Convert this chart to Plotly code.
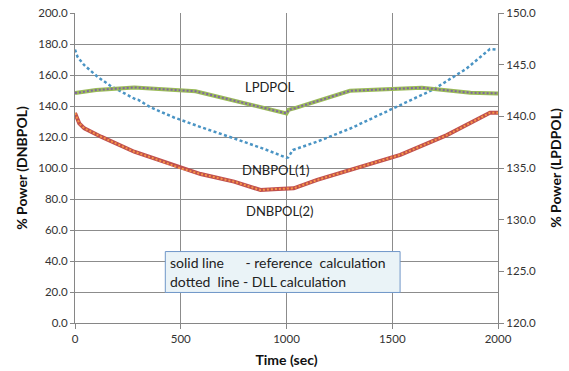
import plotly.graph_objects as go

# ---- data ---------------------------------------------------------------
# DNBPOL(1): DLL calculation, left axis
t_dnb1 = [0, 12, 44, 107, 170, 233, 288, 300, 358, 468, 514, 594, 750, 900,
          1000, 1008, 1030, 1145, 1302, 1443, 1538, 1695, 1850, 1962, 2000]
dnb1 = [176.4, 171.7, 166.3, 158.8, 152.8, 148.1, 144.2, 143.9, 139.1, 132.6,
        130.2, 126.4, 119.2, 112.0, 106.6, 106.8, 111.6, 117.0, 125.5, 134.3,
        140.6, 150.7, 164.0, 176.8, 176.3]

# DNBPOL(2): reference and DLL calculation, left axis
t_dnb2 = [0, 7, 20, 44, 123, 280, 358, 500, 594, 752, 877, 960, 1000, 1034,
          1145, 1302, 1443, 1538, 1758, 1962, 2000]
dnb2_ref = [135.5, 133.5, 128.8, 125.6, 120.2, 110.5, 106.9, 99.8, 96.1, 91.2,
            85.8, 86.5, 86.9, 86.9, 92.3, 98.7, 104.5, 108.5, 121.2, 135.6, 135.6]
dnb2_dll = list(dnb2_ref)

# LPDPOL: reference and DLL calculation, right axis
t_lpd = [0, 100, 280, 420, 570, 1000, 1010, 1040, 1300, 1640, 1870, 2000]
lpd_ref = [142.25, 142.55, 142.8, 142.65, 142.43, 140.28, 140.63, 140.79,
           142.47, 142.77, 142.28, 142.22]
lpd_dll = list(lpd_ref)

# axis ticks
x_ticks = [0, 500, 1000, 1500, 2000]
y_left_ticks = [0, 20, 40, 60, 80, 100, 120, 140, 160, 180, 200]
y_right_ticks = [120, 125, 130, 135, 140, 145, 150]

FONT = "Lato"
GRID = "#8c8c8c"
AXIS = "#868686"
TXT = "#333333"

fig = go.Figure()

# solid reference curves
fig.add_trace(go.Scatter(x=t_lpd, y=lpd_ref, yaxis="y2", mode="lines",
                         line=dict(color="#9BBB59", width=4)))
fig.add_trace(go.Scatter(x=t_dnb2, y=dnb2_ref, mode="lines",
                         line=dict(color="#C0504D", width=4)))
# dotted DLL curves
fig.add_trace(go.Scatter(x=t_lpd, y=lpd_dll, yaxis="y2", mode="lines",
                         line=dict(color="#8064A2", width=2, dash="2px,2px")))
fig.add_trace(go.Scatter(x=t_dnb2, y=dnb2_dll, mode="lines",
                         line=dict(color="#F79646", width=2, dash="2px,2px")))
fig.add_trace(go.Scatter(x=t_dnb1, y=dnb1, mode="lines",
                         line=dict(color="#4A94C4", width=2.5, dash="3px,2.5px")))

tickfont = dict(family=FONT, size=11.5, color=TXT)
titlefont = dict(family=FONT, size=14, color="#111111", weight="bold")

fig.update_layout(
    width=569, height=371,
    margin=dict(l=74.5, r=71, t=12.7, b=47.7, autoexpand=False),
    paper_bgcolor="white", plot_bgcolor="white",
    showlegend=False,
    xaxis=dict(range=[0, 2000], tickvals=x_ticks, ticktext=[str(v) for v in x_ticks],
               showgrid=True, gridcolor=GRID, gridwidth=1,
               showline=True, linecolor=AXIS, linewidth=1,
               ticks="outside", ticklen=5, tickcolor=AXIS,
               tickfont=tickfont, zeroline=False, automargin=False,
               title=dict(text="Time (sec)", font=titlefont, standoff=11)),
    yaxis=dict(range=[0, 200], tickvals=y_left_ticks,
               ticktext=[f"{v:.1f}" for v in y_left_ticks],
               showgrid=True, gridcolor=GRID, gridwidth=1,
               showline=True, linecolor=AXIS, linewidth=1,
               ticks="outside", ticklen=4, tickcolor=AXIS,
               tickfont=tickfont, zeroline=False, automargin=False,
               title=dict(text="% Power (DNBPOL)", font=titlefont, standoff=7)),
    yaxis2=dict(range=[120, 150], tickvals=y_right_ticks,
                ticktext=[f"{v:.1f}" for v in y_right_ticks],
                overlaying="y", side="right", showgrid=False,
                showline=True, linecolor=AXIS, linewidth=1,
                ticks="outside", ticklen=5, tickcolor=AXIS,
                tickfont=tickfont, zeroline=False, automargin=False,
                title=dict(text="% Power (LPDPOL)", font=titlefont, standoff=16)),
)

# curve labels
labfont = dict(family=FONT, size=13, color="#222222")
for txt, x, y in [("LPDPOL", 923, 152.2), ("DNBPOL(1)", 951, 98.7),
                  ("DNBPOL(2)", 970, 72.3)]:
    fig.add_annotation(x=x, y=y, xref="x", yref="y", text=txt, showarrow=False,
                       font=labfont, xanchor="center", yanchor="middle")

# note box
notefont = dict(family=FONT, size=14, color="#222222")
fig.add_shape(type="rect", xref="x", yref="y", x0=427, x1=1537, y0=19.7, y1=46.1,
              line=dict(color="#7097C9", width=1), fillcolor="#EAF3F7", layer="above")
nb = "\u00a0"
fig.add_annotation(x=440, y=38.8, xref="x", yref="y",
                   text="solid line" + nb * 6 + "- reference" + nb + " calculation",
                   showarrow=False, font=notefont, xanchor="left", yanchor="middle")
fig.add_annotation(x=440, y=26.8, xref="x", yref="y",
                   text="dotted" + nb + " line - DLL calculation",
                   showarrow=False, font=notefont, xanchor="left", yanchor="middle")

fig.write_html("out.html")
